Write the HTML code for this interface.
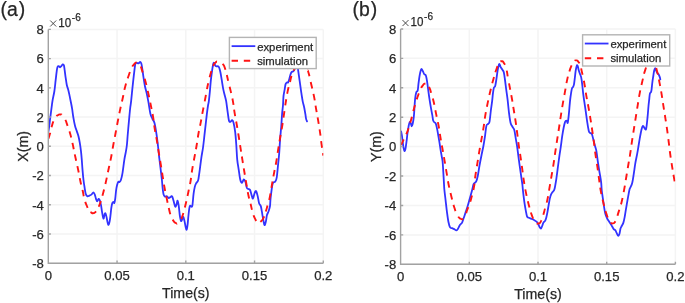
<!DOCTYPE html>
<html><head><meta charset="utf-8"><style>
html,body{margin:0;padding:0;background:#fff;}
svg{display:block;will-change:transform;}
text{font-family:"Liberation Sans", sans-serif;fill:#262626;stroke:#2a2a2a;stroke-width:0.25px;}
</style></head><body>
<svg width="685" height="303" viewBox="0 0 685 303">
<rect width="685" height="303" fill="#fff"/>
<path d="M48.30,263.20H323.30M48.30,233.97H323.30M48.30,204.75H323.30M48.30,175.52H323.30M48.30,146.30H323.30M48.30,117.07H323.30M48.30,87.85H323.30M48.30,58.62H323.30M48.30,29.40H323.30M117.05,29.40V263.20M185.80,29.40V263.20M254.55,29.40V263.20M323.30,29.40V263.20" stroke="#f4f4f4" stroke-width="1.5" fill="none"/>
<clipPath id="clipa"><rect x="48.30" y="27.40" width="275.00" height="237.80"/></clipPath>
<g clip-path="url(#clipa)">
<path d="M48.40,131.70 C48.55,130.70 49.02,127.83 49.30,125.70 C49.58,123.57 49.82,121.18 50.10,118.90 C50.38,116.62 50.70,114.30 51.00,112.00 C51.30,109.70 51.62,107.17 51.90,105.10 C52.18,103.03 52.28,101.95 52.70,99.60 C53.12,97.25 53.92,94.15 54.40,91.00 C54.88,87.85 55.22,83.98 55.60,80.70 C55.98,77.42 56.38,73.58 56.70,71.30 C57.02,69.02 57.17,67.87 57.50,67.00 C57.83,66.13 58.27,66.05 58.70,66.10 C59.13,66.15 59.67,67.30 60.10,67.30 C60.53,67.30 60.87,66.58 61.30,66.10 C61.73,65.62 62.27,64.53 62.70,64.40 C63.13,64.27 63.57,64.30 63.90,65.30 C64.23,66.30 64.42,68.40 64.70,70.40 C64.98,72.40 65.25,74.87 65.60,77.30 C65.95,79.73 66.38,83.00 66.80,85.00 C67.22,87.00 67.68,87.73 68.10,89.30 C68.52,90.87 68.87,92.40 69.30,94.40 C69.73,96.40 70.23,98.93 70.70,101.30 C71.17,103.67 71.67,105.97 72.10,108.60 C72.53,111.23 72.82,114.25 73.30,117.10 C73.78,119.95 74.43,123.40 75.00,125.70 C75.57,128.00 76.13,129.18 76.70,130.90 C77.27,132.62 77.88,134.00 78.40,136.00 C78.92,138.00 79.37,140.33 79.80,142.90 C80.23,145.47 80.67,148.55 81.00,151.40 C81.33,154.25 81.55,156.97 81.80,160.00 C82.05,163.03 82.22,166.27 82.50,169.60 C82.78,172.93 83.17,177.12 83.50,180.00 C83.83,182.88 84.13,184.62 84.50,186.90 C84.87,189.18 85.22,192.13 85.70,193.70 C86.18,195.27 86.83,195.95 87.40,196.30 C87.97,196.65 88.43,196.08 89.10,195.80 C89.77,195.52 90.68,195.18 91.40,194.60 C92.12,194.02 92.83,192.30 93.40,192.30 C93.97,192.30 94.37,193.50 94.80,194.60 C95.23,195.70 95.60,197.77 96.00,198.90 C96.40,200.03 96.77,201.40 97.20,201.40 C97.63,201.40 98.15,199.03 98.60,198.90 C99.05,198.77 99.48,199.47 99.90,200.60 C100.32,201.73 100.75,203.85 101.10,205.70 C101.45,207.55 101.62,209.55 102.00,211.70 C102.38,213.85 102.97,218.17 103.40,218.60 C103.83,219.03 104.27,215.17 104.60,214.30 C104.93,213.43 105.08,212.97 105.40,213.40 C105.72,213.83 106.15,215.47 106.50,216.90 C106.85,218.33 107.17,220.67 107.50,222.00 C107.83,223.33 108.13,225.05 108.50,224.90 C108.87,224.75 109.35,222.87 109.70,221.10 C110.05,219.33 110.32,216.58 110.60,214.30 C110.88,212.02 111.12,209.27 111.40,207.40 C111.68,205.53 111.95,204.02 112.30,203.10 C112.65,202.18 113.17,201.90 113.50,201.90 C113.83,201.90 114.02,203.60 114.30,203.10 C114.58,202.60 114.90,201.03 115.20,198.90 C115.50,196.77 115.78,192.60 116.10,190.30 C116.42,188.00 116.73,186.53 117.10,185.10 C117.47,183.67 117.90,182.20 118.30,181.70 C118.70,181.20 119.07,182.38 119.50,182.10 C119.93,181.82 120.42,181.40 120.90,180.00 C121.38,178.60 121.82,177.15 122.40,173.70 C122.98,170.25 123.83,162.88 124.40,159.30 C124.97,155.72 125.38,154.58 125.80,152.20 C126.22,149.82 126.58,147.87 126.90,145.00 C127.22,142.13 127.43,138.18 127.70,135.00 C127.97,131.82 128.23,128.90 128.50,125.90 C128.77,122.90 129.02,119.98 129.30,117.00 C129.58,114.02 129.90,110.60 130.20,108.00 C130.50,105.40 130.75,104.50 131.10,101.40 C131.45,98.30 131.92,93.12 132.30,89.40 C132.68,85.68 133.02,82.52 133.40,79.10 C133.78,75.68 134.27,71.47 134.60,68.90 C134.93,66.33 135.03,64.70 135.40,63.70 C135.77,62.70 136.28,62.95 136.80,62.90 C137.32,62.85 137.93,63.55 138.50,63.40 C139.07,63.25 139.72,61.95 140.20,62.00 C140.68,62.05 141.05,62.55 141.40,63.70 C141.75,64.85 141.95,66.62 142.30,68.90 C142.65,71.18 143.07,74.55 143.50,77.40 C143.93,80.25 144.38,83.42 144.90,86.00 C145.42,88.58 146.03,90.33 146.60,92.90 C147.17,95.47 147.67,97.93 148.30,101.40 C148.93,104.87 149.72,110.80 150.40,113.70 C151.08,116.60 151.72,117.27 152.40,118.80 C153.08,120.33 153.82,120.35 154.50,122.90 C155.18,125.45 155.92,130.25 156.50,134.10 C157.08,137.95 157.55,142.13 158.00,146.00 C158.45,149.87 158.78,153.63 159.20,157.30 C159.62,160.97 160.05,164.22 160.50,168.00 C160.95,171.78 161.53,176.57 161.90,180.00 C162.27,183.43 162.42,186.17 162.70,188.60 C162.98,191.03 163.23,193.27 163.60,194.60 C163.97,195.93 164.33,196.32 164.90,196.60 C165.47,196.88 166.37,196.07 167.00,196.30 C167.63,196.53 168.13,197.87 168.70,198.00 C169.27,198.13 169.83,197.38 170.40,197.10 C170.97,196.82 171.58,195.72 172.10,196.30 C172.62,196.88 172.98,198.88 173.50,200.60 C174.02,202.32 174.72,205.88 175.20,206.60 C175.68,207.32 176.00,205.90 176.40,204.90 C176.80,203.90 177.22,200.47 177.60,200.60 C177.98,200.73 178.32,203.13 178.70,205.70 C179.08,208.27 179.50,213.43 179.90,216.00 C180.30,218.57 180.68,220.67 181.10,221.10 C181.52,221.53 182.03,219.30 182.40,218.60 C182.77,217.90 182.95,216.48 183.30,216.90 C183.65,217.32 184.07,219.25 184.50,221.10 C184.93,222.95 185.53,226.57 185.90,228.00 C186.27,229.43 186.42,230.27 186.70,229.70 C186.98,229.13 187.32,226.88 187.60,224.60 C187.88,222.32 188.12,218.72 188.40,216.00 C188.68,213.28 189.02,210.02 189.30,208.30 C189.58,206.58 189.77,205.98 190.10,205.70 C190.43,205.42 190.92,206.65 191.30,206.60 C191.68,206.55 192.02,207.55 192.40,205.40 C192.78,203.25 193.20,196.78 193.60,193.70 C194.00,190.62 194.38,188.62 194.80,186.90 C195.22,185.18 195.58,184.40 196.10,183.40 C196.62,182.40 197.48,181.80 197.90,180.90 C198.32,180.00 198.28,179.88 198.60,178.00 C198.92,176.12 199.33,173.05 199.80,169.60 C200.27,166.15 200.85,161.07 201.40,157.30 C201.95,153.53 202.53,151.20 203.10,147.00 C203.67,142.80 204.17,137.65 204.80,132.10 C205.43,126.55 206.35,118.22 206.90,113.70 C207.45,109.18 207.78,107.05 208.10,105.00 C208.42,102.95 208.50,103.72 208.80,101.40 C209.10,99.08 209.57,94.52 209.90,91.10 C210.23,87.68 210.43,84.32 210.80,80.90 C211.17,77.48 211.68,73.47 212.10,70.60 C212.52,67.73 212.95,64.98 213.30,63.70 C213.65,62.42 213.88,62.62 214.20,62.90 C214.52,63.18 214.83,64.83 215.20,65.40 C215.57,65.97 215.92,66.15 216.40,66.30 C216.88,66.45 217.62,66.02 218.10,66.30 C218.58,66.58 218.92,67.00 219.30,68.00 C219.68,69.00 220.02,70.45 220.40,72.30 C220.78,74.15 221.12,76.25 221.60,79.10 C222.08,81.95 222.73,86.53 223.30,89.40 C223.87,92.27 224.52,94.30 225.00,96.30 C225.48,98.30 225.77,98.85 226.20,101.40 C226.63,103.95 227.13,108.37 227.60,111.60 C228.07,114.83 228.52,119.10 229.00,120.80 C229.48,122.50 229.98,121.90 230.50,121.80 C231.02,121.70 231.58,120.02 232.10,120.20 C232.62,120.38 233.08,120.92 233.60,122.90 C234.12,124.88 234.75,128.42 235.20,132.10 C235.65,135.78 235.97,140.47 236.30,145.00 C236.63,149.53 236.80,155.20 237.20,159.30 C237.60,163.40 238.18,166.18 238.70,169.60 C239.22,173.02 239.77,177.58 240.30,179.80 C240.83,182.02 241.32,182.97 241.90,182.90 C242.48,182.83 243.22,179.58 243.80,179.40 C244.38,179.22 244.88,180.37 245.40,181.80 C245.92,183.23 246.38,186.80 246.90,188.00 C247.42,189.20 247.97,188.67 248.50,189.00 C249.03,189.33 249.58,188.98 250.10,190.00 C250.62,191.02 251.12,193.67 251.60,195.10 C252.08,196.53 252.50,198.93 253.00,198.60 C253.50,198.27 254.08,194.35 254.60,193.10 C255.12,191.85 255.58,190.58 256.10,191.10 C256.62,191.62 257.20,194.17 257.70,196.20 C258.20,198.23 258.58,201.65 259.10,203.30 C259.62,204.95 260.35,204.78 260.80,206.10 C261.25,207.42 261.40,208.98 261.80,211.20 C262.20,213.42 262.75,217.08 263.20,219.40 C263.65,221.72 264.05,224.77 264.50,225.10 C264.95,225.43 265.50,223.03 265.90,221.40 C266.30,219.77 266.45,217.00 266.90,215.30 C267.35,213.60 268.08,212.75 268.60,211.20 C269.12,209.65 269.67,208.17 270.00,206.00 C270.33,203.83 270.17,201.88 270.60,198.20 C271.03,194.52 271.85,186.63 272.60,183.90 C273.35,181.17 274.42,182.83 275.10,181.80 C275.78,180.77 276.18,180.77 276.70,177.70 C277.22,174.63 277.78,167.48 278.20,163.40 C278.62,159.32 278.88,157.20 279.20,153.20 C279.52,149.20 279.75,143.98 280.10,139.40 C280.45,134.82 280.97,129.98 281.30,125.70 C281.63,121.42 281.82,117.13 282.10,113.70 C282.38,110.27 282.77,108.03 283.00,105.10 C283.23,102.17 283.22,98.73 283.50,96.10 C283.78,93.47 284.35,91.30 284.70,89.30 C285.05,87.30 285.23,85.25 285.60,84.10 C285.97,82.95 286.48,82.68 286.90,82.40 C287.32,82.12 287.70,82.97 288.10,82.40 C288.50,81.83 288.92,80.28 289.30,79.00 C289.68,77.72 290.02,75.85 290.40,74.70 C290.78,73.55 291.12,72.67 291.60,72.10 C292.08,71.53 292.82,71.72 293.30,71.30 C293.78,70.88 294.13,70.82 294.50,69.60 C294.87,68.38 295.17,65.18 295.50,64.00 C295.83,62.82 296.20,62.50 296.50,62.50 C296.80,62.50 297.07,62.97 297.30,64.00 C297.53,65.03 297.63,66.77 297.90,68.70 C298.17,70.63 298.53,73.03 298.90,75.60 C299.27,78.17 299.70,81.25 300.10,84.10 C300.50,86.95 300.87,89.83 301.30,92.70 C301.73,95.57 302.22,98.83 302.70,101.30 C303.18,103.77 303.77,105.43 304.20,107.50 C304.63,109.57 304.98,111.80 305.30,113.70 C305.62,115.60 305.82,117.62 306.10,118.90 C306.38,120.18 306.85,120.98 307.00,121.40" stroke="#3232ff" stroke-width="1.8" fill="none" stroke-linejoin="round" stroke-linecap="round"/>
<path d="M48.40,138.60 C48.87,137.17 48.77,138.03 49.80,134.30 C50.83,130.57 50.23,131.87 51.50,127.40 C52.77,122.93 52.17,124.37 53.60,120.90 C55.03,117.43 54.27,118.97 55.80,117.00 C57.33,115.03 56.60,115.83 58.20,115.00 C59.80,114.17 59.13,114.30 60.60,114.50 C62.07,114.70 61.07,113.90 62.60,115.60 C64.13,117.30 63.77,116.83 65.20,119.60 C66.63,122.37 65.77,120.77 66.90,123.90 C68.03,127.03 67.43,125.50 68.60,129.00 C69.77,132.50 69.27,130.37 70.40,134.40 C71.53,138.43 71.03,136.90 72.00,141.10 C72.97,145.30 72.17,141.60 73.30,147.00 C74.43,152.40 73.80,149.80 75.40,157.30 C77.00,164.80 76.43,161.53 78.10,169.50 C79.77,177.47 78.90,174.27 80.40,181.20 C81.90,188.13 81.27,184.40 82.60,190.30 C83.93,196.20 82.97,193.67 84.40,198.90 C85.83,204.13 85.33,202.13 86.90,206.00 C88.47,209.87 87.60,208.30 89.10,210.50 C90.60,212.70 89.97,211.73 91.40,212.60 C92.83,213.47 91.97,213.40 93.40,213.10 C94.83,212.80 94.27,213.30 95.70,211.70 C97.13,210.10 96.40,210.70 97.70,208.30 C99.00,205.90 98.37,207.60 99.60,204.50 C100.83,201.40 100.17,203.03 101.40,199.00 C102.63,194.97 102.20,196.50 103.30,192.40 C104.40,188.30 103.77,190.53 104.70,186.70 C105.63,182.87 104.80,186.80 106.10,180.90 C107.40,175.00 106.93,176.87 108.60,169.00 C110.27,161.13 109.60,164.97 111.10,157.30 C112.60,149.63 111.63,153.93 113.10,146.00 C114.57,138.07 113.93,141.73 115.50,133.50 C117.07,125.27 116.30,129.07 117.80,121.30 C119.30,113.53 118.40,117.73 120.00,110.20 C121.60,102.67 120.83,106.67 122.60,98.70 C124.37,90.73 123.27,94.03 125.30,86.30 C127.33,78.57 126.70,81.27 128.70,75.50 C130.70,69.73 129.57,72.63 131.30,69.00 C133.03,65.37 131.93,66.80 133.90,64.60 C135.87,62.40 135.27,62.47 137.20,62.40 C139.13,62.33 138.17,62.00 139.70,64.40 C141.23,66.80 140.53,65.90 141.80,69.60 C143.07,73.30 142.30,71.60 143.50,75.50 C144.70,79.40 143.73,75.07 145.40,81.30 C147.07,87.53 146.63,85.90 148.50,94.20 C150.37,102.50 149.50,98.80 151.00,106.20 C152.50,113.60 151.77,108.93 153.00,116.40 C154.23,123.87 153.43,120.67 154.70,128.60 C155.97,136.53 155.47,132.37 156.80,140.20 C158.13,148.03 157.40,144.17 158.70,152.10 C160.00,160.03 159.40,156.07 160.70,164.00 C162.00,171.93 161.33,168.07 162.60,175.90 C163.87,183.73 163.07,179.70 164.50,187.50 C165.93,195.30 165.43,192.27 166.90,199.30 C168.37,206.33 167.53,203.03 168.90,208.60 C170.27,214.17 169.53,212.00 171.00,216.00 C172.47,220.00 171.70,218.27 173.30,220.60 C174.90,222.93 174.30,222.20 175.80,223.00 C177.30,223.80 176.27,223.87 177.80,223.00 C179.33,222.13 178.93,222.53 180.40,220.40 C181.87,218.27 181.00,219.87 182.20,216.60 C183.40,213.33 182.83,214.80 184.00,210.60 C185.17,206.40 184.50,209.00 185.70,204.00 C186.90,199.00 186.40,201.17 187.60,195.60 C188.80,190.03 188.33,192.00 189.30,187.30 C190.27,182.60 189.53,187.40 190.50,181.50 C191.47,175.60 190.90,177.60 192.20,169.60 C193.50,161.60 192.93,165.53 194.40,157.50 C195.87,149.47 195.27,153.33 196.60,145.50 C197.93,137.67 197.10,141.30 198.40,134.00 C199.70,126.70 199.00,131.40 200.50,123.60 C202.00,115.80 201.33,118.87 202.90,110.60 C204.47,102.33 203.87,105.87 205.20,98.80 C206.53,91.73 205.70,95.37 206.90,89.40 C208.10,83.43 207.43,86.60 208.80,80.90 C210.17,75.20 209.60,77.17 211.00,72.30 C212.40,67.43 211.50,69.53 213.00,66.30 C214.50,63.07 213.83,64.17 215.50,62.60 C217.17,61.03 216.30,61.73 218.00,61.60 C219.70,61.47 218.93,61.33 220.60,62.20 C222.27,63.07 221.57,62.23 223.00,64.20 C224.43,66.17 223.67,64.67 224.90,68.10 C226.13,71.53 225.47,69.67 226.70,74.50 C227.93,79.33 227.27,77.07 228.60,82.60 C229.93,88.13 229.30,85.10 230.70,91.10 C232.10,97.10 231.47,93.20 232.80,100.60 C234.13,108.00 233.33,105.00 234.70,113.30 C236.07,121.60 235.53,117.60 236.90,125.50 C238.27,133.40 237.60,129.53 238.80,137.00 C240.00,144.47 239.30,140.30 240.50,147.90 C241.70,155.50 241.17,152.10 242.40,159.80 C243.63,167.50 242.90,163.17 244.20,171.00 C245.50,178.83 244.90,175.23 246.30,183.30 C247.70,191.37 246.97,188.30 248.40,195.20 C249.83,202.10 249.20,198.47 250.60,204.00 C252.00,209.53 251.13,206.93 252.60,211.80 C254.07,216.67 253.30,215.27 255.00,218.60 C256.70,221.93 255.77,220.87 257.70,221.80 C259.63,222.73 258.77,222.90 260.80,221.40 C262.83,219.90 262.10,220.70 263.80,217.30 C265.50,213.90 264.53,215.63 265.90,211.20 C267.27,206.77 266.57,208.87 267.90,204.00 C269.23,199.13 268.57,202.93 269.90,196.60 C271.23,190.27 270.53,192.77 271.90,185.00 C273.27,177.23 272.57,180.93 274.00,173.30 C275.43,165.67 274.83,169.87 276.20,162.10 C277.57,154.33 276.80,158.10 278.10,150.00 C279.40,141.90 278.80,145.37 280.10,137.80 C281.40,130.23 280.60,135.90 282.00,127.30 C283.40,118.70 282.90,121.27 284.30,112.00 C285.70,102.73 284.93,107.07 286.20,99.50 C287.47,91.93 286.87,95.00 288.10,89.30 C289.33,83.60 288.73,86.97 289.90,82.40 C291.07,77.83 290.30,79.60 291.60,75.60 C292.90,71.60 292.17,74.27 293.80,70.40 C295.43,66.53 294.43,66.80 296.50,64.00 C298.57,61.20 297.67,62.17 300.00,62.00 C302.33,61.83 301.67,62.17 303.50,63.50 C305.33,64.83 304.27,63.83 305.50,66.00 C306.73,68.17 306.17,67.63 307.20,70.00 C308.23,72.37 307.20,68.10 308.60,73.10 C310.00,78.10 309.57,77.07 311.40,85.00 C313.23,92.93 312.57,89.13 314.10,96.90 C315.63,104.67 314.67,100.53 316.00,108.30 C317.33,116.07 316.77,112.27 318.10,120.20 C319.43,128.13 318.87,124.17 320.00,132.10 C321.13,140.03 320.67,138.03 321.50,144.00 C322.33,149.97 321.90,146.17 322.50,150.00 C323.10,153.83 323.03,153.67 323.30,155.50" stroke="#ff1414" stroke-width="1.9" fill="none" stroke-dasharray="6.05 5.63 6.40 5.89 6.40 5.94 6.40 5.77 6.40 5.44 6.40 5.54 6.40 5.67 6.40 5.83 6.40 5.75 6.40 5.72 6.40 5.34 6.40 5.39 6.40 5.40 6.40 5.72 6.40 5.52 6.40 5.52 6.40 5.83 6.40 5.60 6.40 5.60 6.40 5.67 6.40 5.53 6.40 5.54 6.40 5.63 6.40 6.13 6.40 6.25 6.40 6.66 6.40 6.02 6.40 5.57 6.40 5.26 6.40 5.10 6.40 5.65 6.40 5.57 6.40 5.66 6.40 5.56 6.40 5.60 6.40 5.60 6.40 5.56 6.40 5.92 6.40 5.96 6.40 5.70 6.40 5.55 6.40 5.55 6.40 5.45 6.40 5.77 6.40 5.10 6.40 5.49 6.40 5.49 6.40 5.69 6.40 6.41 6.40 5.88 6.40 5.77 6.40 5.41 6.40 6.38 6.40 5.37 6.40 5.79 6.40 5.79 6.40 4.88 6.40 5.62 6.40 5.62 6.40 5.62 6.40 5.07 6.40 5.56 6.40 5.57 6.40 5.77 6.40 5.58 6.40 5.20 6.40 5.05 6.40 5.40 6.40 5.68 6.40 5.80 6.40 5.29 6.40 5.45 6.40 5.61 6.40 5.36 6.40 5.68 6.40 5.63 6.40 5.63 6.40 5.63 6.40 5.63 6.40 5.63 6.40 5.63 6.40 5.63 6.40 6.14 6.40 5.60 6.40 5.55 6.40 5.50 6.40 5.64 6.40 5.63 6.40 5.63 6.40 1173.09" stroke-linejoin="round"/>
</g>
<path d="M48.30,29.40V263.20H323.30M48.30,263.20h2.60M48.30,233.97h2.60M48.30,204.75h2.60M48.30,175.52h2.60M48.30,146.30h2.60M48.30,117.07h2.60M48.30,87.85h2.60M48.30,58.62h2.60M48.30,29.40h2.60M48.30,263.20v-2.60M117.05,263.20v-2.60M185.80,263.20v-2.60M254.55,263.20v-2.60M323.30,263.20v-2.60" stroke="#a2a2a2" stroke-width="1.4" fill="none"/>
<text x="43.90" y="267.95" text-anchor="end" font-size="13.1">-8</text>
<text x="43.90" y="238.72" text-anchor="end" font-size="13.1">-6</text>
<text x="43.90" y="209.50" text-anchor="end" font-size="13.1">-4</text>
<text x="43.90" y="180.27" text-anchor="end" font-size="13.1">-2</text>
<text x="43.90" y="151.05" text-anchor="end" font-size="13.1">0</text>
<text x="43.90" y="121.82" text-anchor="end" font-size="13.1">2</text>
<text x="43.90" y="92.60" text-anchor="end" font-size="13.1">4</text>
<text x="43.90" y="63.38" text-anchor="end" font-size="13.1">6</text>
<text x="43.90" y="34.15" text-anchor="end" font-size="13.1">8</text>
<text x="48.30" y="280.10" text-anchor="middle" font-size="13.1">0</text>
<text x="117.05" y="280.10" text-anchor="middle" font-size="13.1">0.05</text>
<text x="185.80" y="280.10" text-anchor="middle" font-size="13.1">0.1</text>
<text x="254.55" y="280.10" text-anchor="middle" font-size="13.1">0.15</text>
<text x="323.30" y="280.10" text-anchor="middle" font-size="13.1">0.2</text>
<path d="M50.20,20.50l6,6M56.20,20.50l-6,6" stroke="#3a3a3a" stroke-width="0.9" fill="none"/>
<text x="58.20" y="26.70" font-size="13.1" textLength="12.9" lengthAdjust="spacingAndGlyphs">10</text>
<text x="71.80" y="20.50" font-size="10">-6</text>
<text x="185.80" y="297.50" text-anchor="middle" font-size="14.2">Time(s)</text>
<text transform="translate(27.70,146.30) rotate(-90)" text-anchor="middle" font-size="14.2">X(m)</text>
<rect x="229.40" y="37.40" width="86.80" height="31.20" fill="#fff" stroke="#b4b4b4" stroke-width="1.4"/>
<path d="M231.60,46.14H255.30" stroke="#3232ff" stroke-width="1.8"/>
<path d="M231.60,60.80H255.30" stroke="#ff1414" stroke-width="1.9" stroke-dasharray="6.4,5.8"/>
<text x="257.20" y="50.54" font-size="11.3">experiment</text>
<text x="257.20" y="65.00" font-size="11.3">simulation</text>
<text x="0.60" y="15.70" font-size="19.4">(a<tspan dx="1.0">)</tspan></text>
<path d="M400.60,264.30H675.40M400.60,234.88H675.40M400.60,205.46H675.40M400.60,176.04H675.40M400.60,146.62H675.40M400.60,117.21H675.40M400.60,87.79H675.40M400.60,58.37H675.40M400.60,28.95H675.40M469.30,28.95V264.30M538.00,28.95V264.30M606.70,28.95V264.30M675.40,28.95V264.30" stroke="#f4f4f4" stroke-width="1.5" fill="none"/>
<clipPath id="clipb"><rect x="400.60" y="26.95" width="274.80" height="239.35"/></clipPath>
<g clip-path="url(#clipb)">
<path d="M401.10,131.40 C401.22,131.98 401.55,133.32 401.80,134.90 C402.05,136.48 402.32,138.77 402.60,140.90 C402.88,143.03 403.18,146.00 403.50,147.70 C403.82,149.40 404.17,150.95 404.50,151.10 C404.83,151.25 405.15,150.30 405.50,148.60 C405.85,146.90 406.28,143.33 406.60,140.90 C406.92,138.47 407.07,136.43 407.40,134.00 C407.73,131.57 408.22,128.30 408.60,126.30 C408.98,124.30 409.32,122.43 409.70,122.00 C410.08,121.57 410.57,122.98 410.90,123.70 C411.23,124.42 411.40,126.30 411.70,126.30 C412.00,126.30 412.35,125.27 412.70,123.70 C413.05,122.13 413.52,119.35 413.80,116.90 C414.08,114.45 414.18,111.97 414.40,109.00 C414.62,106.03 414.78,101.88 415.10,99.10 C415.42,96.32 415.87,93.72 416.30,92.30 C416.73,90.88 417.33,92.03 417.70,90.60 C418.07,89.17 418.17,86.28 418.50,83.70 C418.83,81.12 419.30,77.38 419.70,75.10 C420.10,72.82 420.55,71.00 420.90,70.00 C421.25,69.00 421.43,68.82 421.80,69.10 C422.17,69.38 422.68,70.83 423.10,71.70 C423.52,72.57 423.87,73.73 424.30,74.30 C424.73,74.87 425.32,74.38 425.70,75.10 C426.08,75.82 426.32,77.17 426.60,78.60 C426.88,80.03 427.12,81.70 427.40,83.70 C427.68,85.70 427.95,88.03 428.30,90.60 C428.65,93.17 429.07,96.25 429.50,99.10 C429.93,101.95 430.43,105.03 430.90,107.70 C431.37,110.37 431.93,113.00 432.30,115.10 C432.67,117.20 432.77,119.10 433.10,120.30 C433.43,121.50 433.87,121.78 434.30,122.30 C434.73,122.82 435.23,122.30 435.70,123.40 C436.17,124.50 436.67,126.85 437.10,128.90 C437.53,130.95 437.90,133.42 438.30,135.70 C438.70,137.98 439.13,140.32 439.50,142.60 C439.87,144.88 440.13,147.12 440.50,149.40 C440.87,151.68 441.35,154.30 441.70,156.30 C442.05,158.30 442.33,158.78 442.60,161.40 C442.87,164.02 443.07,168.25 443.30,172.00 C443.53,175.75 443.82,180.90 444.00,183.90 C444.18,186.90 444.13,187.27 444.40,190.00 C444.67,192.73 445.17,196.58 445.60,200.30 C446.03,204.02 446.53,208.73 447.00,212.30 C447.47,215.87 447.88,219.18 448.40,221.70 C448.92,224.22 449.48,226.33 450.10,227.40 C450.72,228.47 451.42,227.82 452.10,228.10 C452.78,228.38 453.48,228.73 454.20,229.10 C454.92,229.47 455.75,230.38 456.40,230.30 C457.05,230.22 457.52,229.47 458.10,228.60 C458.68,227.73 459.23,226.10 459.90,225.10 C460.57,224.10 461.53,223.60 462.10,222.60 C462.67,221.60 462.90,220.25 463.30,219.10 C463.70,217.95 464.07,216.98 464.50,215.70 C464.93,214.42 465.38,212.97 465.90,211.40 C466.42,209.83 467.03,208.15 467.60,206.30 C468.17,204.45 468.73,202.30 469.30,200.30 C469.87,198.30 470.48,196.18 471.00,194.30 C471.52,192.42 471.95,190.73 472.40,189.00 C472.85,187.27 473.07,185.17 473.70,183.90 C474.33,182.63 475.52,182.77 476.20,181.40 C476.88,180.03 477.25,178.35 477.80,175.70 C478.35,173.05 478.88,168.92 479.50,165.50 C480.12,162.08 480.83,158.53 481.50,155.20 C482.17,151.87 482.92,148.67 483.50,145.50 C484.08,142.33 484.52,139.47 485.00,136.20 C485.48,132.93 485.88,127.95 486.40,125.90 C486.92,123.85 487.58,124.58 488.10,123.90 C488.62,123.22 489.05,123.95 489.50,121.80 C489.95,119.65 490.37,114.40 490.80,111.00 C491.23,107.60 491.73,104.42 492.10,101.40 C492.47,98.38 492.70,95.18 493.00,92.90 C493.30,90.62 493.53,88.85 493.90,87.70 C494.27,86.55 494.78,87.43 495.20,86.00 C495.62,84.57 496.00,81.67 496.40,79.10 C496.80,76.53 497.22,72.88 497.60,70.60 C497.98,68.32 498.38,66.48 498.70,65.40 C499.02,64.32 499.17,63.82 499.50,64.10 C499.83,64.38 500.22,66.17 500.70,67.10 C501.18,68.03 501.88,68.83 502.40,69.70 C502.92,70.57 503.37,70.58 503.80,72.30 C504.23,74.02 504.60,77.15 505.00,80.00 C505.40,82.85 505.77,86.12 506.20,89.40 C506.63,92.68 507.12,95.65 507.60,99.70 C508.08,103.75 508.60,109.83 509.10,113.70 C509.60,117.57 510.02,120.68 510.60,122.90 C511.18,125.12 511.98,125.82 512.60,127.00 C513.22,128.18 513.78,128.13 514.30,130.00 C514.82,131.87 515.23,135.47 515.70,138.20 C516.17,140.93 516.58,142.88 517.10,146.40 C517.62,149.92 518.18,154.75 518.80,159.30 C519.42,163.85 520.22,169.58 520.80,173.70 C521.38,177.82 521.95,181.28 522.30,184.00 C522.65,186.72 522.67,187.85 522.90,190.00 C523.13,192.15 523.42,194.62 523.70,196.90 C523.98,199.18 524.25,201.42 524.60,203.70 C524.95,205.98 525.38,208.45 525.80,210.60 C526.22,212.75 526.58,215.40 527.10,216.60 C527.62,217.80 528.18,217.43 528.90,217.80 C529.62,218.17 530.55,218.43 531.40,218.80 C532.25,219.17 533.13,219.52 534.00,220.00 C534.87,220.48 535.88,220.98 536.60,221.70 C537.32,222.42 537.82,223.43 538.30,224.30 C538.78,225.17 539.07,226.18 539.50,226.90 C539.93,227.62 540.45,228.75 540.90,228.60 C541.35,228.45 541.78,227.00 542.20,226.00 C542.62,225.00 542.92,223.45 543.40,222.60 C543.88,221.75 544.62,221.77 545.10,220.90 C545.58,220.03 545.92,218.83 546.30,217.40 C546.68,215.97 547.02,214.30 547.40,212.30 C547.78,210.30 548.20,207.68 548.60,205.40 C549.00,203.12 549.38,200.45 549.80,198.60 C550.22,196.75 550.63,195.40 551.10,194.30 C551.57,193.20 552.03,192.88 552.60,192.00 C553.17,191.12 553.85,191.38 554.50,189.00 C555.15,186.62 555.90,181.62 556.50,177.70 C557.10,173.78 557.60,169.25 558.10,165.50 C558.60,161.75 559.05,158.33 559.50,155.20 C559.95,152.07 560.35,149.87 560.80,146.70 C561.25,143.53 561.73,139.32 562.20,136.20 C562.67,133.08 563.12,130.40 563.60,128.00 C564.08,125.60 564.58,123.00 565.10,121.80 C565.62,120.60 566.27,120.62 566.70,120.80 C567.13,120.98 567.37,123.75 567.70,122.90 C568.03,122.05 568.35,118.95 568.70,115.70 C569.05,112.45 569.50,106.52 569.80,103.40 C570.10,100.28 570.15,99.47 570.50,97.00 C570.85,94.53 571.47,90.28 571.90,88.60 C572.33,86.92 572.75,87.62 573.10,86.90 C573.45,86.18 573.70,85.88 574.00,84.30 C574.30,82.72 574.62,79.68 574.90,77.40 C575.18,75.12 575.37,72.60 575.70,70.60 C576.03,68.60 576.55,66.12 576.90,65.40 C577.25,64.68 577.48,65.43 577.80,66.30 C578.12,67.17 578.43,69.32 578.80,70.60 C579.17,71.88 579.60,72.87 580.00,74.00 C580.40,75.13 580.83,75.68 581.20,77.40 C581.57,79.12 581.88,81.72 582.20,84.30 C582.52,86.88 582.80,90.33 583.10,92.90 C583.40,95.47 583.60,96.92 584.00,99.70 C584.40,102.48 584.97,105.92 585.50,109.60 C586.03,113.28 586.65,118.23 587.20,121.80 C587.75,125.37 588.30,129.12 588.80,131.00 C589.30,132.88 589.72,132.65 590.20,133.10 C590.68,133.55 591.18,132.68 591.70,133.70 C592.22,134.72 592.75,137.15 593.30,139.20 C593.85,141.25 594.48,144.02 595.00,146.00 C595.52,147.98 595.93,148.53 596.40,151.10 C596.87,153.67 597.30,157.98 597.80,161.40 C598.30,164.82 598.85,168.20 599.40,171.60 C599.95,175.00 600.72,178.73 601.10,181.80 C601.48,184.87 601.40,187.20 601.70,190.00 C602.00,192.80 602.50,195.75 602.90,198.60 C603.30,201.45 603.68,204.53 604.10,207.10 C604.52,209.67 604.90,212.13 605.40,214.00 C605.90,215.87 606.47,217.02 607.10,218.30 C607.73,219.58 608.48,220.57 609.20,221.70 C609.92,222.83 610.65,223.87 611.40,225.10 C612.15,226.33 613.03,228.23 613.70,229.10 C614.37,229.97 614.92,229.67 615.40,230.30 C615.88,230.93 616.12,231.97 616.60,232.90 C617.08,233.83 617.82,235.77 618.30,235.90 C618.78,236.03 619.13,234.92 619.50,233.70 C619.87,232.48 620.13,229.88 620.50,228.60 C620.87,227.32 621.22,227.00 621.70,226.00 C622.18,225.00 622.92,224.03 623.40,222.60 C623.88,221.17 624.22,219.40 624.60,217.40 C624.98,215.40 625.32,212.88 625.70,210.60 C626.08,208.32 626.50,205.98 626.90,203.70 C627.30,201.42 627.68,199.18 628.10,196.90 C628.52,194.62 629.07,191.48 629.40,190.00 C629.73,188.52 629.63,189.18 630.10,188.00 C630.57,186.82 631.58,185.28 632.20,182.90 C632.82,180.52 633.28,176.95 633.80,173.70 C634.32,170.45 634.72,166.82 635.30,163.40 C635.88,159.98 636.75,156.18 637.30,153.20 C637.85,150.22 638.18,148.00 638.60,145.50 C639.02,143.00 639.33,140.78 639.80,138.20 C640.27,135.62 640.90,132.05 641.40,130.00 C641.90,127.95 642.28,126.23 642.80,125.90 C643.32,125.57 643.95,127.48 644.50,128.00 C645.05,128.52 645.60,130.72 646.10,129.00 C646.60,127.28 647.10,121.53 647.50,117.70 C647.90,113.87 648.22,109.02 648.50,106.00 C648.78,102.98 648.97,101.67 649.20,99.60 C649.43,97.53 649.58,94.88 649.90,93.60 C650.22,92.32 650.82,92.62 651.10,91.90 C651.38,91.18 651.38,90.95 651.60,89.30 C651.82,87.65 652.12,84.22 652.40,82.00 C652.68,79.78 653.05,77.67 653.30,76.00 C653.55,74.33 653.68,73.10 653.90,72.00 C654.12,70.90 654.38,70.05 654.60,69.40 C654.82,68.75 654.98,68.10 655.20,68.10 C655.42,68.10 655.65,68.75 655.90,69.40 C656.15,70.05 656.42,71.35 656.70,72.00 C656.98,72.65 657.32,72.95 657.60,73.30 C657.88,73.65 658.12,73.67 658.40,74.10 C658.68,74.53 659.05,75.32 659.30,75.90 C659.55,76.48 659.73,77.03 659.90,77.60 C660.07,78.17 660.23,79.02 660.30,79.30" stroke="#3232ff" stroke-width="1.8" fill="none" stroke-linejoin="round" stroke-linecap="round"/>
<path d="M400.60,145.40 C401.17,144.37 400.87,145.17 402.30,142.30 C403.73,139.43 403.17,140.47 404.90,136.80 C406.63,133.13 406.03,135.07 407.50,131.30 C408.97,127.53 408.10,129.37 409.30,125.50 C410.50,121.63 410.00,123.53 411.10,119.70 C412.20,115.87 411.60,117.83 412.60,114.00 C413.60,110.17 413.00,112.20 414.10,108.20 C415.20,104.20 414.67,105.97 415.90,102.00 C417.13,98.03 416.40,100.20 417.80,96.30 C419.20,92.40 418.53,93.77 420.10,90.30 C421.67,86.83 420.87,88.13 422.50,85.90 C424.13,83.67 423.30,84.00 425.00,83.60 C426.70,83.20 426.07,83.17 427.60,84.70 C429.13,86.23 428.27,84.93 429.60,88.20 C430.93,91.47 430.27,90.07 431.60,94.50 C432.93,98.93 432.13,95.20 433.60,101.50 C435.07,107.80 434.37,105.47 436.00,113.40 C437.63,121.33 437.03,117.40 438.50,125.30 C439.97,133.20 439.10,129.37 440.40,137.10 C441.70,144.83 441.03,140.77 442.40,148.50 C443.77,156.23 443.13,152.40 444.50,160.30 C445.87,168.20 445.13,164.13 446.50,172.20 C447.87,180.27 447.00,176.50 448.60,184.50 C450.20,192.50 449.37,188.43 451.30,196.20 C453.23,203.97 452.40,201.57 454.40,207.80 C456.40,214.03 455.23,211.27 457.30,214.90 C459.37,218.53 458.57,217.63 460.60,218.70 C462.63,219.77 461.73,219.53 463.40,218.10 C465.07,216.67 464.33,217.10 465.60,214.40 C466.87,211.70 465.97,213.37 467.20,210.00 C468.43,206.63 467.97,208.17 469.30,204.30 C470.63,200.43 469.67,204.03 471.20,198.40 C472.73,192.77 472.47,195.20 473.90,187.40 C475.33,179.60 474.33,183.07 475.50,175.00 C476.67,166.93 476.13,171.10 477.40,163.20 C478.67,155.30 477.93,159.30 479.30,151.30 C480.67,143.30 480.07,147.23 481.50,139.20 C482.93,131.17 482.33,135.13 483.60,127.20 C484.87,119.27 484.00,123.17 485.30,115.40 C486.60,107.63 485.90,111.70 487.50,103.90 C489.10,96.10 488.23,99.90 490.10,92.00 C491.97,84.10 490.97,87.87 493.10,80.20 C495.23,72.53 494.53,74.60 496.50,69.00 C498.47,63.40 497.33,65.97 499.00,63.40 C500.67,60.83 499.83,61.37 501.50,61.30 C503.17,61.23 502.40,60.63 504.00,63.20 C505.60,65.77 504.97,64.07 506.30,69.00 C507.63,73.93 506.90,72.20 508.00,78.00 C509.10,83.80 508.33,79.73 509.60,86.40 C510.87,93.07 510.43,90.30 511.80,98.00 C513.17,105.70 512.43,101.73 513.70,109.50 C514.97,117.27 514.43,113.40 515.60,121.30 C516.77,129.20 516.17,125.30 517.20,133.20 C518.23,141.10 517.57,136.97 518.70,145.00 C519.83,153.03 519.43,149.40 520.60,157.30 C521.77,165.20 521.13,160.97 522.20,168.70 C523.27,176.43 522.57,172.60 523.80,180.50 C525.03,188.40 524.30,184.50 525.90,192.40 C527.50,200.30 526.67,196.73 528.60,204.20 C530.53,211.67 529.63,209.27 531.70,214.80 C533.77,220.33 532.60,217.90 534.80,220.80 C537.00,223.70 536.13,223.57 538.30,223.50 C540.47,223.43 539.60,223.60 541.30,220.60 C543.00,217.60 542.17,218.53 543.40,214.50 C544.63,210.47 543.67,213.47 545.00,208.50 C546.33,203.53 545.90,206.53 547.40,199.60 C548.90,192.67 548.10,195.73 549.50,187.70 C550.90,179.67 550.23,183.50 551.60,175.50 C552.97,167.50 552.37,171.60 553.60,163.70 C554.83,155.80 554.13,159.63 555.30,151.80 C556.47,143.97 555.87,148.13 557.10,140.20 C558.33,132.27 557.77,136.03 559.00,128.00 C560.23,119.97 559.57,124.00 560.80,116.10 C562.03,108.20 561.33,112.27 562.70,104.30 C564.07,96.33 563.43,100.27 564.90,92.20 C566.37,84.13 565.67,86.77 567.10,80.10 C568.53,73.43 567.80,76.83 569.20,72.20 C570.60,67.57 569.87,69.60 571.30,66.20 C572.73,62.80 571.93,63.93 573.50,62.00 C575.07,60.07 574.33,60.40 576.00,60.40 C577.67,60.40 577.00,60.03 578.50,62.00 C580.00,63.97 579.37,63.00 580.50,66.30 C581.63,69.60 580.60,66.10 581.90,71.90 C583.20,77.70 582.93,75.80 584.40,83.70 C585.87,91.60 584.93,87.70 586.30,95.60 C587.67,103.50 587.13,99.73 588.50,107.40 C589.87,115.07 589.13,110.80 590.40,118.60 C591.67,126.40 591.13,123.00 592.30,130.80 C593.47,138.60 592.83,134.03 593.90,142.00 C594.97,149.97 594.33,146.40 595.50,154.70 C596.67,163.00 596.23,158.87 597.40,166.90 C598.57,174.93 597.87,170.73 599.00,178.80 C600.13,186.87 599.37,183.20 600.80,191.10 C602.23,199.00 601.43,194.93 603.30,202.50 C605.17,210.07 604.30,207.77 606.40,213.80 C608.50,219.83 607.47,217.40 609.60,220.60 C611.73,223.80 610.70,223.53 612.80,223.40 C614.90,223.27 614.13,223.47 615.90,220.20 C617.67,216.93 616.73,217.90 618.10,213.60 C619.47,209.30 618.77,211.43 620.00,207.30 C621.23,203.17 620.43,207.00 621.80,201.20 C623.17,195.40 622.63,197.80 624.10,189.90 C625.57,182.00 624.83,185.63 626.20,177.50 C627.57,169.37 626.87,173.43 628.20,165.50 C629.53,157.57 628.97,161.60 630.20,153.70 C631.43,145.80 630.70,149.80 631.90,141.80 C633.10,133.80 632.53,137.70 633.80,129.70 C635.07,121.70 634.43,125.73 635.70,117.80 C636.97,109.87 636.30,113.87 637.60,105.90 C638.90,97.93 638.10,101.77 639.60,93.90 C641.10,86.03 640.27,90.13 642.10,82.30 C643.93,74.47 643.07,76.53 645.10,70.40 C647.13,64.27 646.13,66.70 648.20,63.90 C650.27,61.10 649.23,61.87 651.30,62.00 C653.37,62.13 652.57,61.57 654.40,64.30 C656.23,67.03 655.10,64.10 656.80,70.20 C658.50,76.30 657.90,74.60 659.50,82.60 C661.10,90.60 660.30,86.43 661.60,94.20 C662.90,101.97 662.17,98.03 663.40,105.90 C664.63,113.77 664.07,109.87 665.30,117.80 C666.53,125.73 665.97,121.70 667.10,129.70 C668.23,137.70 667.67,133.70 668.70,141.80 C669.73,149.90 669.10,146.00 670.20,154.00 C671.30,162.00 670.73,157.87 672.00,165.80 C673.27,173.73 672.87,171.07 674.00,177.80 C675.13,184.53 674.93,183.27 675.40,186.00" stroke="#ff1414" stroke-width="1.9" fill="none" stroke-dasharray="0.00 0.38 6.40 5.73 6.40 5.67 6.40 5.77 6.40 5.75 6.40 5.82 6.40 5.69 6.40 5.70 6.40 5.72 6.40 5.69 6.40 5.50 6.40 5.44 6.40 5.48 6.40 5.78 6.40 5.79 6.40 5.77 6.40 5.77 6.40 6.10 6.40 6.18 6.40 5.80 6.40 5.64 6.40 5.53 6.40 5.77 6.40 5.74 6.40 5.78 6.40 5.74 6.40 5.50 6.40 5.54 6.40 5.62 6.40 5.77 6.40 4.96 6.40 5.81 6.40 5.90 6.40 6.84 6.40 5.59 6.40 5.44 6.40 5.25 6.40 5.55 6.40 5.72 6.40 5.55 6.40 5.56 6.40 5.44 6.40 5.64 6.40 5.72 6.40 5.38 6.40 5.96 6.40 5.97 6.40 6.31 6.40 5.83 6.40 5.75 6.40 5.72 6.40 5.59 6.40 5.65 6.40 5.65 6.40 5.59 6.40 5.76 6.40 5.86 6.40 5.86 6.40 5.27 6.40 5.75 6.40 5.51 6.40 6.29 6.40 5.64 6.40 5.41 6.40 5.50 6.40 5.27 6.40 5.75 6.40 5.75 6.40 5.99 6.40 5.86 6.40 5.45 6.40 5.76 6.40 5.62 6.40 5.95 6.40 5.78 6.40 5.62 6.40 6.13 6.40 5.69 6.40 5.84 6.40 5.31 6.40 5.68 6.40 5.71 6.40 5.72 6.40 5.69 6.40 5.63 6.40 5.71 6.40 5.01 6.40 5.49 6.40 5.49 6.40 5.12 6.40 5.71 6.40 5.49 6.40 5.57 6.40 5.70 6.40 5.86 6.40 5.71 6.40 5.73 6.40 5.55 6.40 1284.13" stroke-linejoin="round"/>
</g>
<path d="M400.60,28.95V264.30H675.40M400.60,264.30h2.60M400.60,234.88h2.60M400.60,205.46h2.60M400.60,176.04h2.60M400.60,146.62h2.60M400.60,117.21h2.60M400.60,87.79h2.60M400.60,58.37h2.60M400.60,28.95h2.60M400.60,264.30v-2.60M469.30,264.30v-2.60M538.00,264.30v-2.60M606.70,264.30v-2.60M675.40,264.30v-2.60" stroke="#a2a2a2" stroke-width="1.4" fill="none"/>
<text x="396.20" y="269.05" text-anchor="end" font-size="13.1">-8</text>
<text x="396.20" y="239.63" text-anchor="end" font-size="13.1">-6</text>
<text x="396.20" y="210.21" text-anchor="end" font-size="13.1">-4</text>
<text x="396.20" y="180.79" text-anchor="end" font-size="13.1">-2</text>
<text x="396.20" y="151.38" text-anchor="end" font-size="13.1">0</text>
<text x="396.20" y="121.96" text-anchor="end" font-size="13.1">2</text>
<text x="396.20" y="92.54" text-anchor="end" font-size="13.1">4</text>
<text x="396.20" y="63.12" text-anchor="end" font-size="13.1">6</text>
<text x="396.20" y="33.70" text-anchor="end" font-size="13.1">8</text>
<text x="400.60" y="281.20" text-anchor="middle" font-size="13.1">0</text>
<text x="469.30" y="281.20" text-anchor="middle" font-size="13.1">0.05</text>
<text x="538.00" y="281.20" text-anchor="middle" font-size="13.1">0.1</text>
<text x="606.70" y="281.20" text-anchor="middle" font-size="13.1">0.15</text>
<text x="675.40" y="281.20" text-anchor="middle" font-size="13.1">0.2</text>
<path d="M402.50,20.05l6,6M408.50,20.05l-6,6" stroke="#3a3a3a" stroke-width="0.9" fill="none"/>
<text x="410.50" y="26.25" font-size="13.1" textLength="12.9" lengthAdjust="spacingAndGlyphs">10</text>
<text x="424.10" y="20.05" font-size="10">-6</text>
<text x="538.00" y="298.60" text-anchor="middle" font-size="14.2">Time(s)</text>
<text transform="translate(380.50,146.62) rotate(-90)" text-anchor="middle" font-size="14.2">Y(m)</text>
<rect x="582.60" y="34.80" width="87.10" height="31.20" fill="#fff" stroke="#b4b4b4" stroke-width="1.4"/>
<path d="M584.80,43.54H608.50" stroke="#3232ff" stroke-width="1.8"/>
<path d="M584.80,58.20H608.50" stroke="#ff1414" stroke-width="1.9" stroke-dasharray="6.4,5.8"/>
<text x="610.40" y="47.94" font-size="11.3">experiment</text>
<text x="610.40" y="62.40" font-size="11.3">simulation</text>
<text x="352.50" y="15.70" font-size="19.4">(b<tspan dx="1.0">)</tspan></text>
</svg>
</body></html>
